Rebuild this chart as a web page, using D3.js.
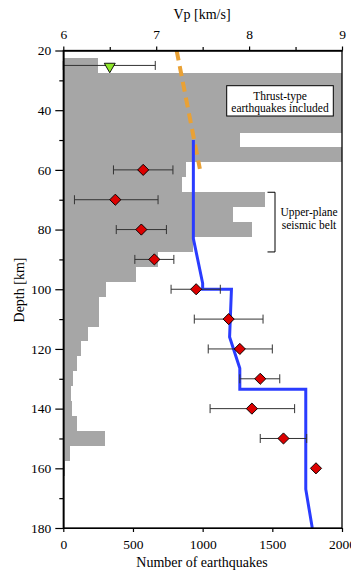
<!DOCTYPE html>
<html>
<head>
<meta charset="utf-8">
<script src="https://cdn.jsdelivr.net/npm/d3@7"></script>
<style>
  body { margin: 0; background: #fff; }
  .axis path, .axis line { stroke: #000; stroke-width: 1.2; }
</style>
</head>
<body>
<div class="root"></div>
<script>
// histogram: 5 km depth bins (centre) and number of earthquakes
const binDepth = [25, 30, 35, 40, 45, 50, 55, 60, 65, 70, 75, 80, 85, 90, 95, 100,
                  105, 110, 115, 120, 125, 130, 135, 140, 145, 150, 155, 160, 165, 170, 175];
const binCount = [250, 2600, 2600, 2600, 2600, 1270, 2600, 880, 852, 1446, 1219, 1355, 932, 681, 521, 306,
                  258, 258, 175, 127, 96, 67, 55, 60, 98, 300, 46, 12, 8, 5, 3];

// Vp estimates with error range
const vpDepth = [60, 70, 80, 90, 100, 110, 120, 130, 140, 150, 160];
const vpMean  = [6.86, 6.56, 6.84, 6.98, 7.43, 7.78, 7.90, 8.12, 8.03, 8.37, 8.72];
const vpLow   = [6.54, 6.12, 6.57, 6.77, 7.16, 7.41, 7.56, 7.90, 7.58, 8.12, null];
const vpHigh  = [7.18, 7.02, 7.11, 7.19, 7.69, 8.15, 8.25, 8.33, 8.49, 8.62, null];

// thrust-type estimate (triangle)
const thrustDepth = [25];
const thrustVp = [6.50];
const thrustLow = [6.00];
const thrustHigh = [6.99];

// reference velocity model (blue)
const modelVp    = [7.40, 7.40, 7.50, 7.50, 7.81, 7.79, 7.90, 7.90, 8.61, 8.61, 8.68];
const modelDepth = [50, 83, 98, 100, 100, 116, 126.5, 133.5, 133.5, 167, 180];

// orange dashed trend
const trendVp = [7.22, 7.47];
const trendDepth = [20, 59.7];

const depthTicks = [20, 40, 60, 80, 100, 120, 140, 160, 180];
const depthMinor = [30, 50, 70, 90, 110, 130, 150, 170];
const vpTicks = [6, 7, 8, 9];
const vpMinor = [6.5, 7.5, 8.5];
const countTicks = [0, 500, 1000, 1500, 2000];

const w = 351;
const h = 575;
const padLeft = 63.3, padRight = 342, padTop = 50.5, padBottom = 528;
const serif = "'Liberation Serif', 'Times New Roman', 'DejaVu Serif', serif";

const svg = d3.select(".root")
              .append("svg")
              .attr("width", w)
              .attr("height", h)
              .style("font-family", serif);

const yScale = d3.scaleLinear().domain([20, 180]).range([padTop, padBottom]);
const vpScale = d3.scaleLinear().domain([6, 9]).range([padLeft, padRight]);
const countScale = d3.scaleLinear().domain([0, 2000]).range([padLeft, padRight]).clamp(true);

// histogram bars
svg.selectAll("rect.bar")
   .data(binDepth)
   .enter()
   .append("rect")
   .attr("class", "bar")
   .attr("x", countScale(0))
   .attr("y", (d) => yScale(d - 2.5))
   .attr("width", (d, i) => countScale(binCount[i]) - countScale(0))
   .attr("height", (d) => yScale(d + 2.5) - yScale(d - 2.5))
   .attr("fill", "#a6a6a6")
   .attr("shape-rendering", "crispEdges");

function label(x, y, txt, size) {
  return svg.append("text")
            .attr("x", x).attr("y", y)
            .attr("text-anchor", "middle")
            .style("font-family", serif)
            .style("font-size", size)
            .attr("fill", "#000")
            .text(txt);
}

// annotation box
svg.append("rect")
   .attr("x", 226.7).attr("y", 85.7)
   .attr("width", 106.6).attr("height", 30.3)
   .attr("fill", "#fff").attr("stroke", "#000").attr("stroke-width", 1);
label(280, 99.5, "Thrust-type", "11.5px");
label(280, 112, "earthquakes included", "11.5px");

// bracket for upper-plane seismic belt
svg.append("path")
   .attr("d", "M267.5," + yScale(67.5) + "H275V" + yScale(87.5) + "H267.5")
   .attr("fill", "none").attr("stroke", "#000").attr("stroke-width", 1);
label(309, 216, "Upper-plane", "11.5px");
label(309, 229, "seismic belt", "11.5px");

// orange dashed trend
const line = d3.line().x((d) => vpScale(d[0])).y((d) => yScale(d[1]));
svg.append("path")
   .datum(d3.zip(trendVp, trendDepth))
   .attr("d", line)
   .attr("fill", "none")
   .attr("stroke", "#e9a135")
   .attr("stroke-width", 4)
   .attr("stroke-dasharray", "10,6");

// blue model
svg.append("path")
   .datum(d3.zip(modelVp, modelDepth))
   .attr("d", line)
   .attr("fill", "none")
   .attr("stroke", "#2a3cff")
   .attr("stroke-width", 3);

// error bars
function errorBars(depths, lows, highs) {
  const g = svg.append("g").attr("stroke", "#333").attr("stroke-width", 1).attr("fill", "none");
  depths.forEach((d, i) => {
    if (lows[i] == null) return;
    const y = yScale(d);
    const x0 = vpScale(lows[i]), x1 = vpScale(highs[i]);
    g.append("line").attr("x1", x0).attr("x2", x1).attr("y1", y).attr("y2", y);
    g.append("line").attr("x1", x0).attr("x2", x0).attr("y1", y - 4.5).attr("y2", y + 4.5);
    g.append("line").attr("x1", x1).attr("x2", x1).attr("y1", y - 4.5).attr("y2", y + 4.5);
  });
}
errorBars(vpDepth, vpLow, vpHigh);
errorBars(thrustDepth, thrustLow, thrustHigh);

// diamonds
svg.selectAll("path.diamond")
   .data(vpDepth)
   .enter()
   .append("path")
   .attr("class", "diamond")
   .attr("d", d3.symbol(d3.symbolSquare, 62))
   .attr("transform", (d, i) => "translate(" + vpScale(vpMean[i]) + "," + yScale(d) + ")rotate(45)")
   .attr("fill", "#dd0000")
   .attr("stroke", "#000")
   .attr("stroke-width", 0.9);

// triangle
svg.selectAll("path.tri")
   .data(thrustDepth)
   .enter()
   .append("path")
   .attr("class", "tri")
   .attr("d", d3.symbol(d3.symbolTriangle, 52))
   .attr("transform", (d, i) => "translate(" + vpScale(thrustVp[i]) + "," + (yScale(d) + 1) + ")rotate(180)")
   .attr("fill", "#8ee62a")
   .attr("stroke", "#000")
   .attr("stroke-width", 0.9);

// frame
svg.append("rect")
   .attr("x", padLeft).attr("y", padTop)
   .attr("width", padRight - padLeft).attr("height", padBottom - padTop)
   .attr("fill", "none").attr("stroke", "#000").attr("stroke-width", 1.3);

function styleAxis(g) {
  g.attr("font-family", serif).attr("font-size", 13.5);
  g.selectAll("text").attr("fill", "#000");
}

// Add left axis
svg.append("g")
   .attr("class", "axis")
   .attr("transform", "translate(" + padLeft + ",0)")
   .call(d3.axisLeft(yScale).tickValues(depthTicks).tickSize(8).tickSizeOuter(0).tickPadding(4))
   .call(styleAxis);
svg.append("g")
   .attr("class", "axis")
   .attr("transform", "translate(" + padLeft + ",0)")
   .call(d3.axisLeft(yScale).tickValues(depthMinor).tickSize(4).tickSizeOuter(0).tickFormat(""));

// Add top axis
svg.append("g")
   .attr("class", "axis")
   .attr("transform", "translate(0," + padTop + ")")
   .call(d3.axisTop(vpScale).tickValues(vpTicks).tickSize(4).tickSizeOuter(0).tickPadding(8).tickFormat(d3.format("d")))
   .call(styleAxis);
svg.append("g")
   .attr("class", "axis")
   .attr("transform", "translate(0," + padTop + ")")
   .call(d3.axisTop(vpScale).tickValues(vpMinor).tickSize(3.5).tickSizeOuter(0).tickFormat(""));

// Add bottom axis
svg.append("g")
   .attr("class", "axis")
   .attr("transform", "translate(0," + padBottom + ")")
   .call(d3.axisBottom(countScale).tickValues(countTicks).tickSize(4).tickSizeOuter(0).tickPadding(7).tickFormat(d3.format("d")))
   .call(styleAxis);

// axis labels
label(202, 18.5, "Vp [km/s]", "14px");
label(202, 567, "Number of earthquakes", "14px");

svg.append("text")
   .attr("text-anchor", "middle")
   .attr("transform", "translate(24,290)rotate(-90)")
   .style("font-family", serif)
   .style("font-size", "14px")
   .text("Depth [km]");
</script>
</body>
</html>
